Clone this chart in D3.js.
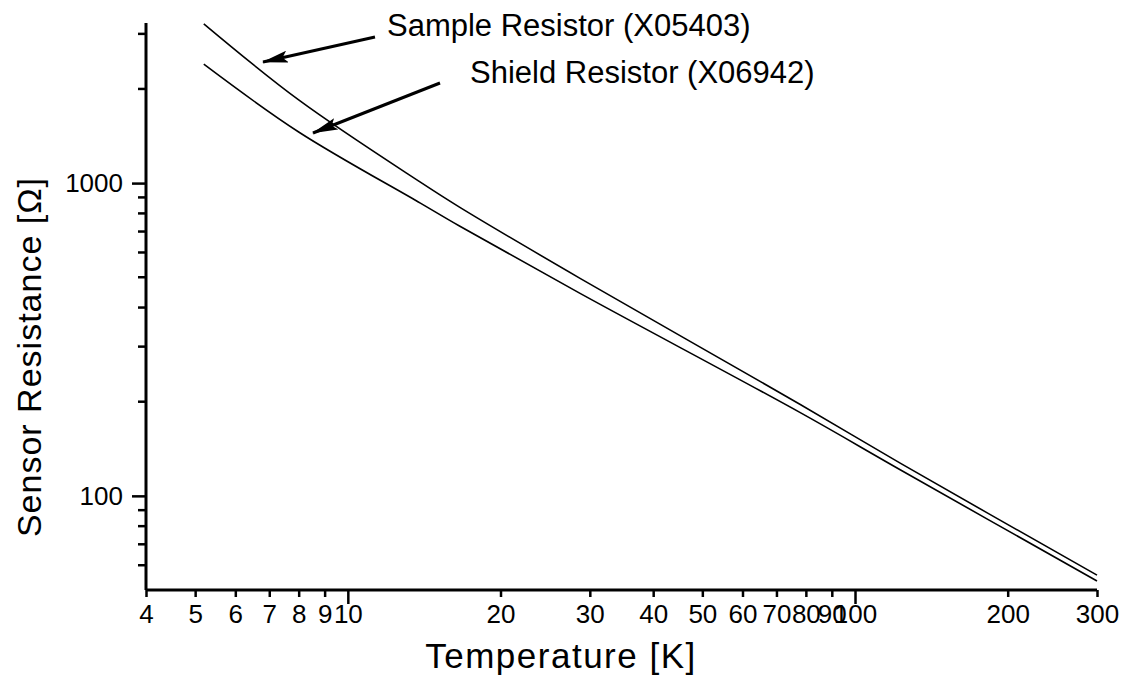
<!DOCTYPE html>
<html>
<head>
<meta charset="utf-8">
<script src="https://cdn.jsdelivr.net/npm/d3@7"></script>
<style>
  body { margin: 0; background: #fff; }
  text { font-family: "Liberation Sans", Arial, sans-serif; fill: #000; }
</style>
</head>
<body>
<div class="chart"></div>
<script>
// values
var temps = [5.2, 8, 13.9, 16.6, 28.7, 78, 123, 300];
var sampleR = [3230, 1845, 1007, 838, 496, 196, 127, 55.8];
var shieldR = [2400, 1457, 863, 729, 444, 184.5, 121, 53.4];

var xTicks = [4, 5, 6, 7, 8, 9, 10, 20, 30, 40, 50, 60, 70, 80, 90, 100, 200, 300];
var xMajor = [10, 100];
var yMinor = [60, 70, 80, 90, 200, 300, 400, 500, 600, 700, 800, 900, 2000, 3000];
var yMajor = [100, 1000];

var labels = [
  {text: "Sample Resistor (X05403)", from: [375, 37], to: [263, 62], tx: 387, ty: 36},
  {text: "Shield Resistor (X06942)", from: [440, 83], to: [313, 133], tx: 470, ty: 83}
];

var W = 1126, H = 677;
var plotL = 146, plotR = 1097, plotT = 23, plotB = 590;

var svg = d3.select(".chart")
            .append("svg")
            .attr("width", W)
            .attr("height", H);

var x = d3.scaleLog()
          .domain([4, 300])
          .range([plotL, plotR]);

var y = d3.scaleLog()
          .domain([50, 3250])
          .range([plotB, plotT]);

// x axis: short ticks, long at decades
var xAxis = d3.axisBottom(x)
              .tickValues(xTicks)
              .tickSize(7)
              .tickFormat(d3.format("d"));

var gx = svg.append("g")
            .attr("transform", "translate(0," + plotB + ")")
            .call(xAxis);

gx.select(".domain").attr("stroke-width", 3).attr("d", "M" + plotL + ",0H" + plotR);
gx.selectAll(".tick line")
  .attr("stroke-width", 2.5)
  .attr("y2", function(d) { return xMajor.indexOf(d) >= 0 ? 14 : 7; });
gx.selectAll(".tick text")
  .attr("y", 15)
  .style("font-size", "26px")
  .style("font-family", "Liberation Sans, Arial, sans-serif");

var gy = svg.append("g")
            .attr("transform", "translate(" + plotL + ",0)")
            .call(d3.axisLeft(y).tickValues(yMajor).tickSize(14).tickPadding(9).tickFormat(d3.format("d")));

gy.select(".domain").attr("stroke-width", 3).attr("d", "M0," + plotT + "V" + plotB);
gy.selectAll(".tick line").attr("stroke-width", 2.5);
gy.selectAll(".tick text")
  .style("font-size", "26px")
  .style("font-family", "Liberation Sans, Arial, sans-serif");

gy.selectAll("line.minor")
  .data(yMinor)
  .enter()
  .append("line")
  .attr("class", "minor")
  .attr("x1", -8)
  .attr("x2", 0)
  .attr("y1", function(d) { return y(d); })
  .attr("y2", function(d) { return y(d); })
  .attr("stroke", "#000")
  .attr("stroke-width", 2.5);

// curves
var line = d3.line()
             .x(function(d) { return x(d[0]); })
             .y(function(d) { return y(d[1]); })
             .curve(d3.curveCatmullRom.alpha(0.5));

[sampleR, shieldR].forEach(function(vals) {
  svg.append("path")
     .datum(temps.map(function(t, i) { return [t, vals[i]]; }))
     .attr("d", line)
     .attr("fill", "none")
     .attr("stroke", "#000")
     .attr("stroke-width", 1.6);
});

// annotations with arrows
svg.append("defs")
   .append("marker")
   .attr("id", "head")
   .attr("viewBox", "0 0 26 12")
   .attr("refX", 25)
   .attr("refY", 6)
   .attr("markerWidth", 26)
   .attr("markerHeight", 12)
   .attr("markerUnits", "userSpaceOnUse")
   .attr("orient", "auto")
   .append("path")
   .attr("d", "M0,0L26,6L0,12L5,6Z")
   .attr("fill", "#000");

labels.forEach(function(l) {
  svg.append("line")
     .attr("x1", l.from[0])
     .attr("y1", l.from[1])
     .attr("x2", l.to[0])
     .attr("y2", l.to[1])
     .attr("stroke", "#000")
     .attr("stroke-width", 3)
     .attr("marker-end", "url(#head)");
  svg.append("text")
     .attr("x", l.tx)
     .attr("y", l.ty)
     .style("font-size", "31px")
     .text(l.text);
});

// axis titles
svg.append("text")
   .attr("x", 561)
   .attr("y", 668)
   .attr("text-anchor", "middle")
   .style("font-size", "35px")
   .style("letter-spacing", "1.5px")
   .text("Temperature [K]");

svg.append("text")
   .attr("transform", "translate(41," + 357 + ") rotate(-90)")
   .attr("text-anchor", "middle")
   .style("font-size", "34px")
   .style("letter-spacing", "1px")
   .text("Sensor Resistance [Ω]");
</script>
</body>
</html>
